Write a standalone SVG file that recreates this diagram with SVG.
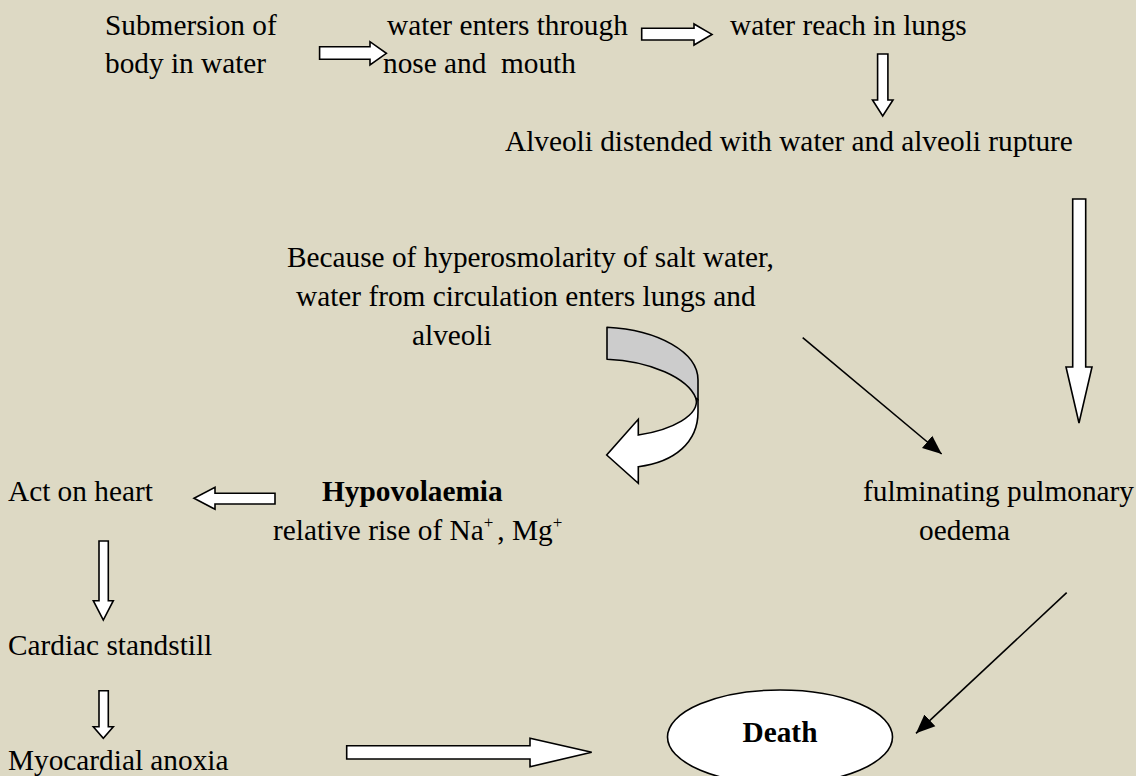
<svg xmlns="http://www.w3.org/2000/svg" width="1136" height="776" viewBox="0 0 1136 776">
<style>
text { font-family: "Liberation Serif", "Times New Roman", serif; font-size: 29.3px; fill: #000; }
.b { font-weight: bold; }
.sup { font-size: 17px; }
.blk { fill: #fff; stroke: #000; stroke-width: 1.6; stroke-linejoin: miter; }
.ln { fill: none; stroke: #000; stroke-width: 1.6; }
</style>
<defs>
<marker id="ah" viewBox="0 0 10 10" refX="10" refY="5" markerWidth="19" markerHeight="19" markerUnits="userSpaceOnUse" orient="auto">
<path d="M0,0.8 L10,5 L0,9.2 Z" fill="#000"/>
</marker>
</defs>
<rect x="0" y="0" width="1136" height="776" fill="#DDD9C4"/>

<g id="n-submersion"><text x="105" y="34.5">Submersion of</text><text x="105" y="73">body in water</text></g>
<g id="n-enters"><text x="387" y="34.5">water enters through</text><text x="383" y="73" xml:space="preserve">nose and  mouth</text></g>
<g id="n-lungs"><text x="730" y="34.5">water reach in lungs</text></g>
<g id="n-alveoli"><text x="505" y="151">Alveoli distended with water and alveoli rupture</text></g>
<g id="n-hyperosm"><text x="287" y="267">Because of hyperosmolarity of salt water,</text><text x="296" y="306">water from circulation enters lungs and</text><text x="412" y="345">alveoli</text></g>
<g id="n-oedema"><text x="863" y="501">fulminating pulmonary</text><text x="919" y="539.5">oedema</text></g>
<g id="n-hypovol"><text class="b" x="322" y="501">Hypovolaemia</text><text x="273" y="540">relative rise of Na<tspan class="sup" dy="-12">+</tspan><tspan dx="4" dy="12">, Mg</tspan><tspan class="sup" dy="-12">+</tspan></text></g>
<g id="n-heart"><text x="8" y="501">Act on heart</text></g>
<g id="n-cardiac"><text x="8" y="655">Cardiac standstill</text></g>
<g id="n-myo"><text x="8" y="769.5">Myocardial anoxia</text></g>
<g id="n-death"><ellipse cx="780" cy="737" rx="112.5" ry="47" fill="#fff" stroke="#000" stroke-width="1.6"/><text class="b" x="780" y="742" text-anchor="middle">Death</text></g>

<g id="connectors">
<path class="blk" d="M319.6,46.7 H370 V41.7 L386.4,53.3 L370,65 V59.3 H319.6 Z"/>
<path class="blk" d="M641.7,28.3 H694 V24 L712,34.4 L694,45 V40 H641.7 Z"/>
<path class="blk" d="M877.6,54 H887.9 V100 H893 L882.7,116 L872.5,100 H877.6 Z"/>
<path class="blk" d="M1072.7,199 H1085.7 V367 H1092 L1079,423 L1066,367 H1072.7 Z"/>
<path class="ln" marker-end="url(#ah)" d="M802.7,337.7 L941.7,454"/>
<path d="M607,327.3 C658,330 698,352 698,380 L698,400 L696,398.5 C688,378 650,361 607,359.3 Z" fill="#CCCCCC" stroke="#000" stroke-width="1.6" stroke-linejoin="round"/>
<path class="blk" d="M696,398.5 C700,415 672,430 638.3,435 L638.3,419.3 L606.7,455 L638.3,483.3 L638.3,466.7 C675,462 698,442 698,412 L698,400 Z" stroke-linejoin="round"/>
<path class="blk" d="M275,493.3 H215 V487.3 L194,498.3 L215,509.3 V504 H275 Z"/>
<path class="blk" d="M99,541 H108.3 V600.7 H113.3 L103.3,620 L93.3,600.7 H99 Z"/>
<path class="blk" d="M99,690.7 H108.3 V726.7 H113.3 L103.3,738.3 L93.3,726.7 H99 Z"/>
<path class="blk" d="M346.7,745.7 H530 V738.3 L591.7,752.3 L530,766.7 V759 H346.7 Z"/>
<path class="ln" marker-end="url(#ah)" d="M1066.7,592.7 L916,733.3"/>
</g>
</svg>
